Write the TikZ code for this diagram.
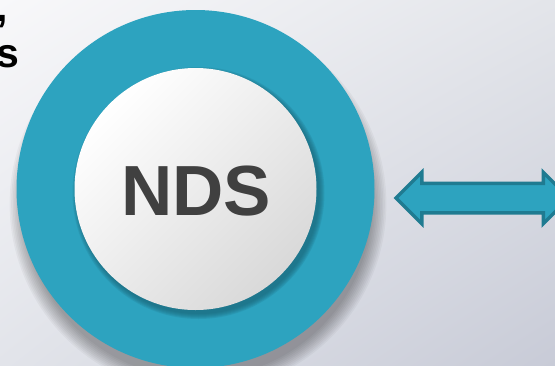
\documentclass[tikz,border=0pt]{standalone}
\usepackage{fontspec}
\setmainfont{Liberation Sans}
\usetikzlibrary{positioning, shapes.arrows, shadings, calc}
\definecolor{ndsteal}{HTML}{2DA3BF}
\definecolor{ndsdark}{HTML}{1F7B91}
\definecolor{ndsgray}{HTML}{404040}
\definecolor{bgtl}{HTML}{F8F8FA}
\definecolor{bgtr}{HTML}{E3E5EA}
\definecolor{bgbl}{HTML}{E2E4EA}
\definecolor{bgbr}{HTML}{C8CBD7}
\tikzset{%
	ring/.style={circle, inner sep=0mm, minimum size=358pt, fill=ndsteal},
	core/.style={circle, inner sep=0mm, minimum size=242pt,%
		top color=white, bottom color=black!15, shading angle=45},
	title/.style={inner sep=0mm, text=ndsgray, font=\bfseries\fontsize{71}{71}\selectfont},
	link/.style={double arrow, draw=ndsdark, fill=ndsteal, line width=3.5pt,%
		minimum height=173pt, inner xsep=0pt, inner ysep=13pt, double arrow head extend=11pt},
	cut/.style={anchor=base east, inner sep=0mm, text=black,%
		font=\bfseries\fontsize{41}{41}\selectfont}
}

\begin{document}
\begin{tikzpicture}[x=1pt, y=-1pt]
	\useasboundingbox (0,0) rectangle (555,365);
	\clip (0,0) rectangle (555,365);
	\shade[upper left=bgtl, upper right=bgtr, lower left=bgbl, lower right=bgbr]
		(0,0) rectangle (555,365);

	% soft shadow under the ring
	\foreach \r in {0,...,9}
		\fill[black, opacity=0.035] (198,204) circle ({174+1.6*\r});

	\node[ring]                (ring)  at (195.5,189) {};

	% shadow of the core on the ring
	\foreach \r in {0,...,5}
		\fill[ndsdark!80!black, opacity=0.16] (198.5,193) circle ({121+\r});

	\node[core]                (core)  at (ring.center) {};
	\node[title]               (nds)   at (196,191) {NDS};

	\node[link]                (arrow) at (482.5,198) {};

	\node[cut]                 (comma) at (8,21) {,};
	\node[cut]                 (tail)  at (19.5,67) {s};
\end{tikzpicture}
\end{document}
